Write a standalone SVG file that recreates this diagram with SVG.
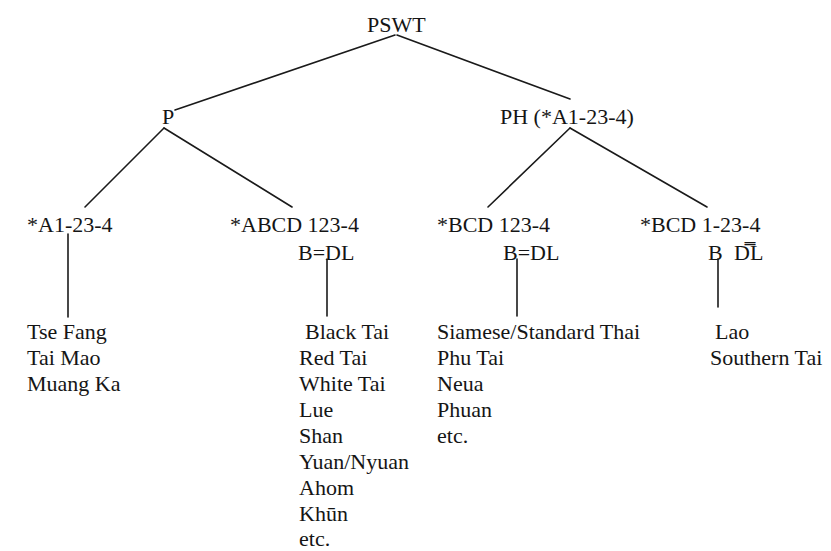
<svg xmlns="http://www.w3.org/2000/svg" width="831" height="551" viewBox="0 0 831 551">
<style>
.t text{font-size:22px;fill:#151515}
.c line{stroke:#1a1a1a;stroke-width:1.6;stroke-linecap:round}
</style>
<rect width="831" height="551" fill="#fff"/>
<g class="c" id="connectors">
<line x1="395" y1="35" x2="175" y2="110"/>
<line x1="397" y1="35" x2="570" y2="99"/>
<line x1="164" y1="128" x2="85" y2="207"/>
<line x1="164" y1="128" x2="292" y2="207"/>
<line x1="570" y1="128" x2="488" y2="207"/>
<line x1="570" y1="128" x2="707" y2="207"/>
<line x1="68" y1="234" x2="68" y2="317"/>
<line x1="327" y1="259" x2="327" y2="316"/>
<line x1="517" y1="259" x2="517" y2="316"/>
<line x1="718" y1="259" x2="718" y2="307"/>
</g>
<g class="t" font-family="'Liberation Serif', 'Times New Roman', serif">
<g id="n-pswt"><text x="367" y="32">PSWT</text></g>
<g id="n-p"><text x="162" y="124">P</text></g>
<g id="n-ph"><text x="500" y="124">PH (*A1-23-4)</text></g>
<g id="n-a"><text x="27" y="232">*A1-23-4</text></g>
<g id="n-abcd"><text x="230" y="232">*ABCD 123-4</text><text x="298" y="260">B=DL</text></g>
<g id="n-bcd1"><text x="437" y="232">*BCD 123-4</text><text x="503" y="260">B=DL</text></g>
<g id="n-bcd2"><text x="640" y="232">*BCD 1-23-4</text><text x="708" y="260">B</text><text x="734" y="260">D̿L</text></g>
<g id="leaf-a"><text x="27" y="339">Tse Fang</text><text x="27" y="365">Tai Mao</text><text x="27" y="391">Muang Ka</text></g>
<g id="leaf-abcd"><text x="305" y="339">Black Tai</text><text x="299" y="365">Red Tai</text><text x="299" y="391">White Tai</text><text x="299" y="417">Lue</text><text x="299" y="443">Shan</text><text x="299" y="469">Yuan/Nyuan</text><text x="299" y="495">Ahom</text><text x="299" y="521">Khūn</text><text x="299" y="546">etc.</text></g>
<g id="leaf-bcd1"><text x="437" y="339">Siamese/Standard Thai</text><text x="437" y="365">Phu Tai</text><text x="437" y="391">Neua</text><text x="437" y="417">Phuan</text><text x="437" y="443">etc.</text></g>
<g id="leaf-bcd2"><text x="715" y="339">Lao</text><text x="710" y="365">Southern Tai</text></g>
</g>
</svg>
